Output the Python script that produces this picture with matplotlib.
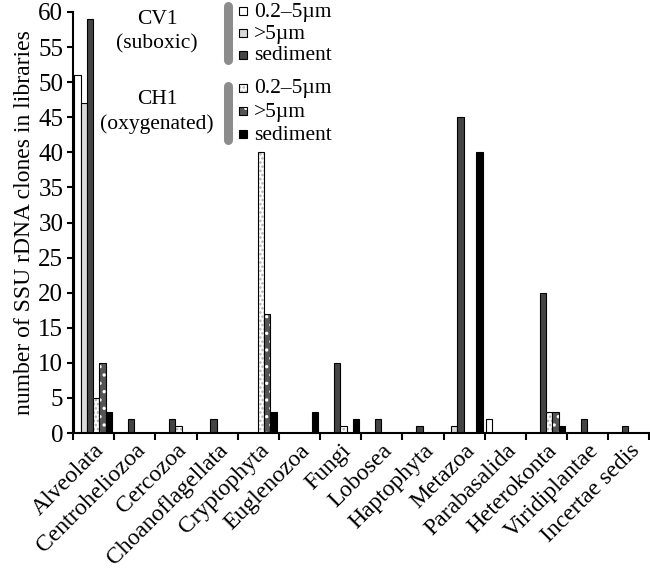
import matplotlib
matplotlib.use("Agg")
import matplotlib.pyplot as plt
import numpy as np
from matplotlib.patches import Rectangle
from matplotlib.lines import Line2D

plt.rcParams['font.family'] = ['Liberation Serif', 'DejaVu Serif']
plt.rcParams['hatch.linewidth'] = 1.2

categories = ["Alveolata", "Centroheliozoa", "Cercozoa", "Choanoflagellata",
              "Cryptophyta", "Euglenozoa", "Fungi", "Lobosea", "Haptophyta",
              "Metazoa", "Parabasalida", "Heterokonta", "Viridiplantae",
              "Incertae sedis"]

# CV1 (suboxic)
cv1_small = [51, 0, 0, 0, 0, 0, 0, 0, 0, 0, 2, 0, 0, 0]
cv1_large = [47, 0, 0, 0, 0, 0, 0, 0, 0, 1, 0, 0, 0, 0]
cv1_sed = [59, 2, 2, 2, 0, 0, 10, 2, 1, 45, 0, 20, 2, 1]
# CH1 (oxygenated)
ch1_small = [5, 0, 1, 0, 40, 0, 1, 0, 0, 0, 0, 3, 0, 0]
ch1_large = [10, 0, 0, 0, 17, 0, 0, 0, 0, 0, 0, 3, 0, 0]
ch1_sed = [3, 0, 0, 0, 3, 3, 2, 0, 0, 40, 0, 1, 0, 0]

size_labels = ["0.2\u20135\u00b5m", ">5\u00b5m", "sediment"]

# style: (facecolor, hatch, hatch colour)
styles = [
    ("white", None, None),
    ("#d9d9d9", None, None),
    ("#444444", None, None),
    ("white", "....", "#b0b0b0"),
    ("#555555", "..", "white"),
    ("black", None, None),
]
series = [cv1_small, cv1_large, cv1_sed, ch1_small, ch1_large, ch1_sed]

fig = plt.figure(figsize=(6.5, 5.72), dpi=100)
ax = fig.add_axes([73 / 650, 1 - 433 / 572, 576.5 / 650, 421 / 572])

x = np.arange(len(categories))
w = 0.153
start = -0.47
for k, (vals, (fc, hatch, hc)) in enumerate(zip(series, styles)):
    pos = x + start + k * w
    if hatch:
        ax.bar(pos, vals, w, align="edge", color=fc, hatch=hatch,
               edgecolor=hc, linewidth=0)
        ax.bar(pos, vals, w, align="edge", fill=False, edgecolor="black",
               linewidth=0.8)
    else:
        ax.bar(pos, vals, w, align="edge", color=fc, edgecolor="black",
               linewidth=0.8)

ax.set_xlim(-0.5, len(categories) - 0.5)
ax.set_ylim(0, 60)
ax.set_yticks(range(0, 61, 5))
ax.set_xticks(np.arange(len(categories) + 1) - 0.5)
ax.set_xticklabels([])
ax.set_xticks(x, minor=True)
ax.set_xticklabels(categories, minor=True, rotation=45, ha="right",
                   rotation_mode="anchor", fontsize=17)
ax.tick_params(axis="x", which="minor", length=0, pad=5)
ax.tick_params(axis="x", which="major", length=5, width=1.5, direction="out")
ax.tick_params(axis="y", length=4, width=1.5, labelsize=18, pad=3)
for s in ["top", "right"]:
    ax.spines[s].set_visible(False)
for s in ["left", "bottom"]:
    ax.spines[s].set_linewidth(1.5)
ax.set_ylabel("number of SSU rDNA clones in libraries", fontsize=17, labelpad=2)

# custom legend drawn in figure pixels
def fx(px):
    return px / 650

def fy(py):
    return 1 - py / 572

fig.text(fx(157), fy(20), "CV1", ha="center", va="center", fontsize=15.5)
fig.text(fx(157), fy(44), "(suboxic)", ha="center", va="center", fontsize=15.5)
fig.text(fx(157), fy(100), "CH1", ha="center", va="center", fontsize=15.5)
fig.text(fx(157), fy(124), "(oxygenated)", ha="center", va="center", fontsize=15.5)

for y0, y1 in [(6, 60), (86, 140)]:
    fig.add_artist(Line2D([fx(228), fx(228)], [fy(y0), fy(y1)], color="#8c8c8c",
                          linewidth=6.5, solid_capstyle="round"))

rows = [11, 33, 55, 88, 111, 134]
for k, (row, (fc, hatch, hc)) in enumerate(zip(rows, styles)):
    sq = 8
    if hatch:
        fig.add_artist(Rectangle((fx(239), fy(row + sq / 2)), sq / 650, sq / 572,
                                 facecolor=fc, hatch=hatch, edgecolor=hc,
                                 linewidth=0))
        fig.add_artist(Rectangle((fx(239), fy(row + sq / 2)), sq / 650, sq / 572,
                                 fill=False, edgecolor="black", linewidth=0.8))
    else:
        fig.add_artist(Rectangle((fx(239), fy(row + sq / 2)), sq / 650, sq / 572,
                                 facecolor=fc, edgecolor="black", linewidth=0.8))
    fig.text(fx(254), fy(row + 1), size_labels[k % 3], ha="left", va="center",
             fontsize=15.5)

fig.savefig("out.png", dpi=100)
